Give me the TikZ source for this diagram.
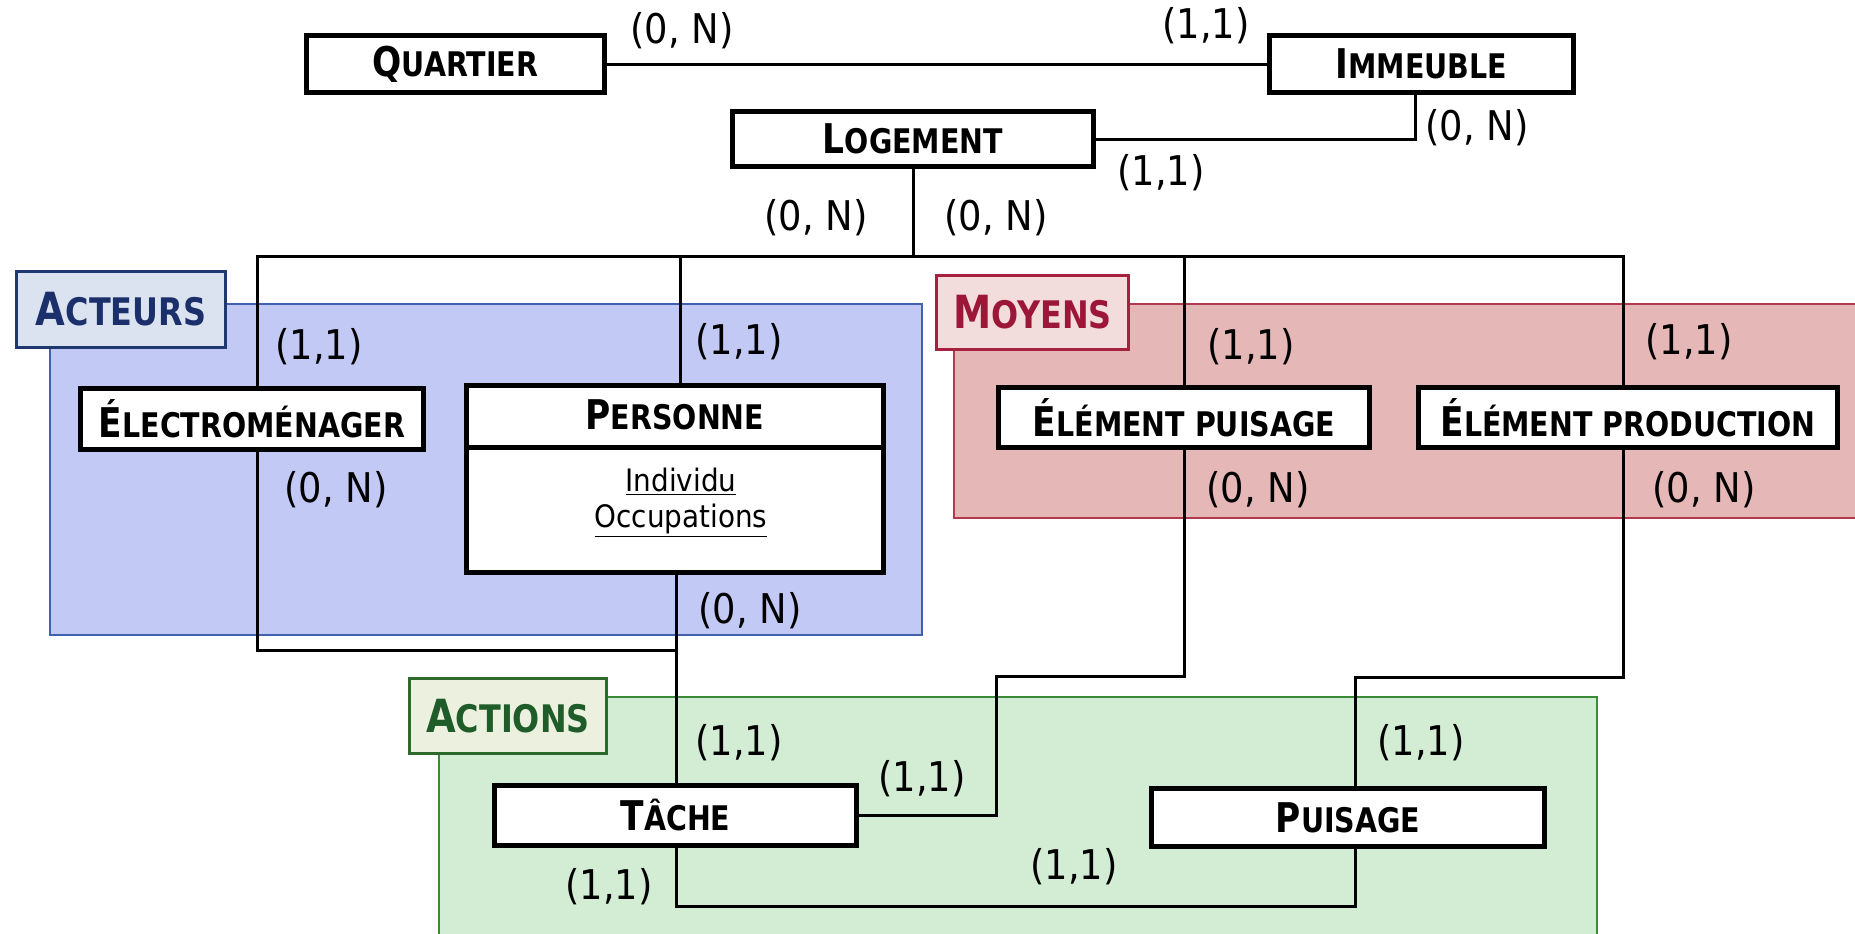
\documentclass[tikz,border=0pt]{standalone}
\usepackage{fontspec}
\setmainfont{DejaVu Sans}
\newfontfamily\entf{DejaVu Sans}[FakeStretch=0.84]
\newfontfamily\labf{DejaVu Sans}[FakeStretch=0.9]
\newcommand\ScE[2]{{\entf\bfseries\fontsize{23.3}{24}\selectfont #1\fontsize{19.3}{20}\selectfont #2}}
\newcommand\ScG[2]{{\entf\bfseries\fontsize{26}{27}\selectfont #1\fontsize{21.6}{22}\selectfont #2}}
\definecolor{actfill}{HTML}{C3C9F5}
\definecolor{actborder}{HTML}{4060B0}
\definecolor{actlabfill}{HTML}{DCE3F0}
\definecolor{acttext}{HTML}{1B2F6B}
\definecolor{actlabborder}{HTML}{1F3870}
\definecolor{moyfill}{HTML}{E5B7B7}
\definecolor{moyborder}{HTML}{B3394F}
\definecolor{moylabfill}{HTML}{F2DCDC}
\definecolor{moytext}{HTML}{9C1638}
\definecolor{moylabborder}{HTML}{A8203F}
\definecolor{acnfill}{HTML}{D3EDD4}
\definecolor{acnborder}{HTML}{3A8A3A}
\definecolor{acnlabfill}{HTML}{EBF1DE}
\definecolor{acntext}{HTML}{1F5C2A}
\definecolor{acnlabborder}{HTML}{2B6A2B}
\pgfdeclarelayer{regionlayer}
\pgfdeclarelayer{connlayer}
\pgfsetlayers{regionlayer,connlayer,main}
\tikzset{
  ent/.style={draw=black, fill=white, line width=1mm, inner sep=0pt},
  conn/.style={draw=black, line width=0.6mm},
  card/.style={inner sep=0pt, font=\labf\fontsize{23.3}{24}\selectfont},
  grouplab/.style={line width=0.6mm, inner sep=0pt},
  attr/.style={inner sep=0pt, font=\labf\fontsize{17.6}{18}\selectfont}
}
\begin{document}
\begin{tikzpicture}[x=0.2mm, y=-0.2mm]
\useasboundingbox (0,0) rectangle (1855,933);
\clip (0,0) rectangle (1855,933);
% regions
\begin{pgfonlayer}{regionlayer}
\filldraw[fill=actfill, draw=actborder, line width=0.3mm] (50,304) rectangle (922,635);
\filldraw[fill=moyfill, draw=moyborder, line width=0.3mm] (954,304) rectangle (1870,518);
\filldraw[fill=acnfill, draw=acnborder, line width=0.3mm] (439,697) rectangle (1597,950);
\end{pgfonlayer}
\node[grouplab, draw=actlabborder, fill=actlabfill, text=acttext, minimum width=209*0.2mm, minimum height=76*0.2mm] (acteurs) at (121,309.5) {\ScG{A}{CTEURS}};
\node[grouplab, draw=moylabborder, fill=moylabfill, text=moytext, minimum width=192*0.2mm, minimum height=74*0.2mm] (moyens) at (1032.5,312.5) {\ScG{M}{OYENS}};
\node[grouplab, draw=acnlabborder, fill=acnlabfill, text=acntext, minimum width=197*0.2mm, minimum height=75*0.2mm] (actions) at (508,716) {\ScG{A}{CTIONS}};
% entities
\node[ent, minimum width=298*0.2mm, minimum height=57*0.2mm] (quartier) at (455.5,64) {\ScE{Q}{UARTIER}};
\node[ent, minimum width=304*0.2mm, minimum height=57*0.2mm] (immeuble) at (1421.5,64) {\ScE{I}{MMEUBLE}};
\node[ent, minimum width=361*0.2mm, minimum height=55*0.2mm] (logement) at (913,139) {\ScE{L}{OGEMENT}};
\node[ent, minimum width=343*0.2mm, minimum height=61*0.2mm] (electro) at (252,419) {\ScE{É}{LECTROMÉNAGER}};
\node[ent, minimum width=417*0.2mm, minimum height=187*0.2mm] (personne) at (675,479) {};
\node[ent, minimum width=371*0.2mm, minimum height=60*0.2mm] (elpuis) at (1184,417.5) {\ScE{É}{LÉMENT PUISAGE}};
\node[ent, minimum width=419*0.2mm, minimum height=60*0.2mm] (elprod) at (1628,417.5) {\ScE{É}{LÉMENT PRODUCTION}};
\node[ent, minimum width=362*0.2mm, minimum height=60*0.2mm] (tache) at (675.5,815.5) {\ScE{T}{ÂCHE}};
\node[ent, minimum width=393*0.2mm, minimum height=58*0.2mm] (puisage) at (1348,817.5) {\ScE{P}{UISAGE}};
% personne interior
\draw[line width=1mm] (personne.west |- 0,447) -- (personne.east |- 0,447);
\node[inner sep=0pt] (perstitle) at (675,415) {\ScE{P}{ERSONNE}};
\node[attr] (individu) at (681,482) {\underline{Individu}};
\node[attr] (occup) at (681,521) {\underline{Occupations}};
% connector guide coordinates
\coordinate (bus) at (0,256);
\coordinate (joinA) at (0,650);
\coordinate (joinB) at (996,676);
\coordinate (joinC) at (0,677);
\coordinate (bot) at (0,906);
\coordinate (xE) at (257,0);
\coordinate (xP) at (680,0);
\coordinate (xT) at (676,0);
\coordinate (xR) at (1623,0);
\coordinate (xI) at (1415,0);
\coordinate (xU) at (1355,0);
\begin{pgfonlayer}{connlayer}
\draw[conn] (quartier.east) -- (immeuble.west);
\draw[conn] (logement.east) -| (xI |- immeuble.south);
\draw[conn] (logement.south) -- (logement.south |- bus);
\draw[conn] (xE |- electro.north) -- (xE |- bus) -- (xR |- bus) -- (xR |- elprod.north);
\draw[conn] (xP |- personne.north) -- (xP |- bus);
\draw[conn] (elpuis.north) -- (elpuis.north |- bus);
\draw[conn] (xE |- electro.south) |- (xT |- joinA);
\draw[conn] (xT |- personne.south) -- (xT |- tache.north);
\draw[conn] (elpuis.south) |- (joinB) |- (tache.east);
\draw[conn] (xR |- elprod.south) |- (xU |- joinC) -- (xU |- puisage.north);
\draw[conn] (xT |- tache.south) |- (xU |- bot) -- (xU |- puisage.south);
\end{pgfonlayer}
% cardinalities
\node[card] (c1) at (682,31) {(0, N)};
\node[card] (c2) at (1206,26) {(1,1)};
\node[card] (c3) at (1477,128) {(0, N)};
\node[card] (c4) at (1161,173) {(1,1)};
\node[card] (c5) at (816,218) {(0, N)};
\node[card] (c6) at (996,218) {(0, N)};
\node[card] (c7) at (319,347) {(1,1)};
\node[card] (c8) at (739,342) {(1,1)};
\node[card] (c9) at (1251,347) {(1,1)};
\node[card] (c10) at (1689,342) {(1,1)};
\node[card] (c11) at (336,490) {(0, N)};
\node[card] (c12) at (1258,490) {(0, N)};
\node[card] (c13) at (1704,490) {(0, N)};
\node[card] (c14) at (750,611) {(0, N)};
\node[card] (c15) at (739,743) {(1,1)};
\node[card] (c16) at (922,779) {(1,1)};
\node[card] (c17) at (1421,743) {(1,1)};
\node[card] (c18) at (609,887) {(1,1)};
\node[card] (c19) at (1074,867) {(1,1)};
\end{tikzpicture}
\end{document}
